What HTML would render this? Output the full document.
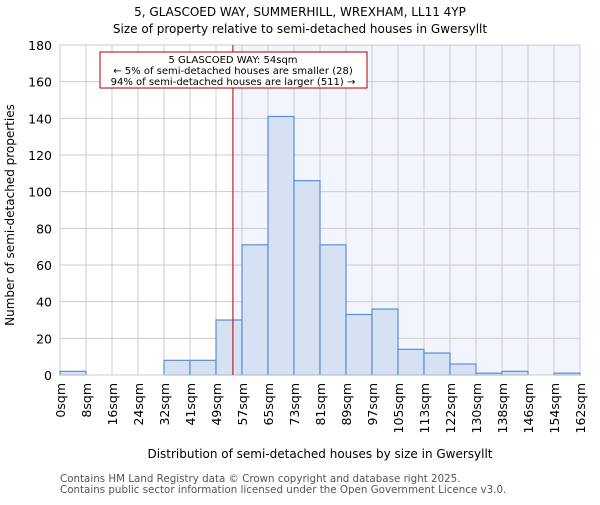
<!DOCTYPE html>
<html><head><meta charset="utf-8"><style>body{margin:0;background:#fff}svg{font-family:"DejaVu Sans","Liberation Sans",sans-serif}</style></head>
<body>
<svg id="c" width="600" height="500" xmlns="http://www.w3.org/2000/svg">
<text x="300" y="16" text-anchor="middle" font-size="12">5, GLASCOED WAY, SUMMERHILL, WREXHAM, LL11 4YP</text>
<text x="300" y="33" text-anchor="middle" font-size="12">Size of property relative to semi-detached houses in Gwersyllt</text>
<text x="14" y="215" text-anchor="middle" font-size="12" transform="rotate(-90 14 215)">Number of semi-detached properties</text>
<text x="320" y="458" text-anchor="middle" font-size="12">Distribution of semi-detached houses by size in Gwersyllt</text>
<text x="60" y="482" font-size="10.3" fill="#555">Contains HM Land Registry data © Crown copyright and database right 2025.</text>
<text x="60" y="493" font-size="10.3" fill="#555">Contains public sector information licensed under the Open Government Licence v3.0.</text>
<g id="plot"></g>
</svg>
<script>
const tickLabels=["0sqm","8sqm","16sqm","24sqm","32sqm","41sqm","49sqm","57sqm","65sqm","73sqm","81sqm","89sqm","97sqm","105sqm","113sqm","122sqm","130sqm","138sqm","146sqm","154sqm","162sqm"];
const counts=[2,0,0,0,8,8,30,71,141,106,71,33,36,14,12,6,1,2,0,1];
const yTicks=[0,20,40,60,80,100,120,140,160,180];
const markerBin=6.65;
const NS="http://www.w3.org/2000/svg";
const L=60,R=580,T=45,B=375,yMax=180;
const bw=(R-L)/counts.length;
const xs=i=>L+i*bw, ys=v=>B-(B-T)*v/yMax;
const g=document.getElementById('plot');
function el(t,a){const e=document.createElementNS(NS,t);for(const k in a)e.setAttribute(k,a[k]);g.appendChild(e);return e;}
let e=el('rect',{x:xs(markerBin),y:T,width:R-xs(markerBin),height:B-T,fill:'#f2f5fd'});

yTicks.forEach(v=>{let l=el('line',{x1:L,x2:R,y1:ys(v),y2:ys(v),stroke:'#ccc'});

let t=el('text',{x:L-8,y:ys(v)+5,'text-anchor':'end','font-size':12.5});t.textContent=v;
});
tickLabels.forEach((s,i)=>{let l=el('line',{x1:xs(i),x2:xs(i),y1:T,y2:B,stroke:'#ccc'});

let t=el('text',{x:0,y:0,'text-anchor':'end','font-size':12.5,transform:`translate(${xs(i)+5},${B+8}) rotate(-90)`});t.textContent=s;
});
counts.forEach((v,i)=>{if(v<=0)return;let r=el('rect',{x:xs(i),y:ys(v),width:bw,height:B-ys(v),fill:'#d6e1f3',stroke:'#5b8fd6','stroke-width':1.2});
});
let ax=el('line',{x1:L,x2:R,y1:B,y2:B,stroke:'#ccc'});
let m=el('line',{x1:xs(markerBin),x2:xs(markerBin),y1:T,y2:B,stroke:'#b00000','stroke-width':1});

let bx=el('rect',{x:100,y:52,width:267,height:36,fill:'#fff',stroke:'#b00000','stroke-width':1});

["5 GLASCOED WAY: 54sqm","← 5% of semi-detached houses are smaller (28)","94% of semi-detached houses are larger (511) →"].forEach((s,i)=>{
let t=el('text',{x:233,y:63+i*11,'text-anchor':'middle','font-size':10});t.textContent=s;
});
</script>
</body></html>
